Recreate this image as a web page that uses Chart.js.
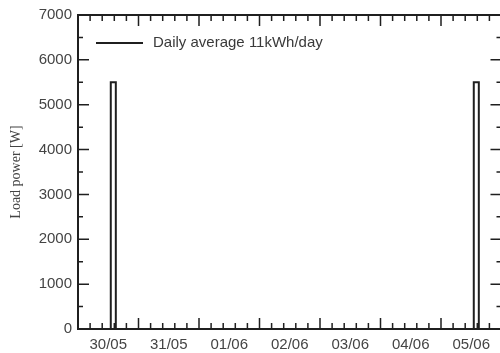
<!DOCTYPE html>
<html>
<head>
<meta charset="utf-8">
<script src="https://cdn.jsdelivr.net/npm/chart.js@4"></script>
<style>
  html, body { margin: 0; padding: 0; background: #fff; overflow: hidden; }
  #wrap { width: 504px; height: 353px; }
</style>
</head>
<body>
<div id="wrap"><canvas id="chart"></canvas></div>
<script>
// day labels (each day spans 24 h, label at noon)
const days = ["30/05", "31/05", "01/06", "02/06", "03/06", "04/06", "05/06"];
// load power trace: hours since 30/05 00:00 and power in W
const hours = [0, 13, 13, 15, 15, 157, 157, 159, 159, 168];
const power = [0, 0, 5500, 5500, 0, 0, 5500, 5500, 0, 0];
const seriesLabel = "Daily average 11kWh/day";
const yMax = 7000;

const ink = "#1f1f1f";
const sans = "'Liberation Sans', Arial, sans-serif";

// frame, inward ticks on all four sides, and the legend inside the plot
const framePlugin = {
  id: "frame",
  afterDraw(chart) {
    const { ctx, chartArea: a, scales: { x, y } } = chart;
    ctx.save();
    ctx.strokeStyle = ink;
    ctx.lineWidth = 1.5;
    ctx.beginPath();
    const totalH = days.length * 24;
    for (let h = 0; h <= totalH + 0.01; h += 4.8) {
      const px = x.getPixelForValue(h);
      const len = Math.abs(h / 24 - Math.round(h / 24)) < 0.01 ? 11 : 6;
      ctx.moveTo(px, a.bottom); ctx.lineTo(px, a.bottom - len);
      ctx.moveTo(px, a.top); ctx.lineTo(px, a.top + len);
    }
    for (let v = 0; v <= yMax; v += 500) {
      const py = y.getPixelForValue(v);
      const len = v % 1000 === 0 ? 11 : 5;
      ctx.moveTo(a.left, py); ctx.lineTo(a.left + len, py);
      ctx.moveTo(a.right, py); ctx.lineTo(a.right - len, py);
    }
    ctx.stroke();

    ctx.lineWidth = 2;
    ctx.strokeRect(a.left, a.top, a.right - a.left, a.bottom - a.top);

    // legend
    const ly = a.top + 28;
    ctx.lineWidth = 2;
    ctx.beginPath();
    ctx.moveTo(a.left + 18, ly);
    ctx.lineTo(a.left + 65, ly);
    ctx.stroke();
    ctx.fillStyle = "#3a3a3a";
    ctx.font = "15px " + sans;
    ctx.textBaseline = "middle";
    ctx.fillText(chart.data.datasets[0].label, a.left + 75, ly);
    ctx.restore();
  }
};

new Chart(document.getElementById("chart"), {
  type: "line",
  data: {
    datasets: [{
      label: seriesLabel,
      data: hours.map((h, i) => ({ x: h, y: power[i] })),
      borderColor: ink,
      borderWidth: 2,
      pointRadius: 0,
      tension: 0,
      fill: false
    }]
  },
  options: {
    responsive: true,
    maintainAspectRatio: false,
    animation: false,
    layout: { padding: { top: 14, right: 2.5, left: 0, bottom: 0 } },
    plugins: {
      legend: { display: false },
      tooltip: { enabled: false }
    },
    scales: {
      x: {
        type: "linear",
        min: 0,
        max: days.length * 24,
        grid: { display: false, drawTicks: false },
        border: { display: false },
        afterBuildTicks: (scale) => {
          scale.ticks = days.map((_, i) => ({ value: 12 + 24 * i }));
        },
        afterFit: (scale) => { scale.height = 24; },
        ticks: {
          autoSkip: false,
          maxRotation: 0,
          padding: 7,
          color: "#444",
          font: { family: sans, size: 15 },
          callback: (v) => days[Math.round((v - 12) / 24)]
        }
      },
      y: {
        min: 0,
        max: yMax,
        grid: { display: false, drawTicks: false },
        border: { display: false },
        afterFit: (scale) => { scale.width = 78; },
        ticks: {
          stepSize: 1000,
          padding: 6,
          color: "#444",
          font: { family: sans, size: 15 },
          callback: (v) => String(v)
        },
        title: {
          display: true,
          text: "Load power [W]",
          color: "#444",
          padding: { top: 8, bottom: 0 },
          font: { family: "'Liberation Serif', 'Times New Roman', serif", size: 14 }
        }
      }
    }
  },
  plugins: [framePlugin]
});
</script>
</body>
</html>
